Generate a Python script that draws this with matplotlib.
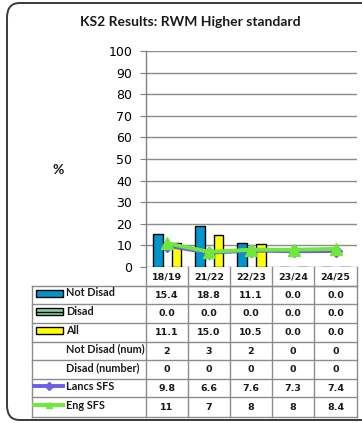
import matplotlib
matplotlib.use("Agg")
import matplotlib.pyplot as plt
from matplotlib.patches import FancyBboxPatch, Rectangle
from matplotlib.lines import Line2D

categories = ["18/19", "21/22", "22/23", "23/24", "24/25"]
not_disad = [15.4, 18.8, 11.1, 0.0, 0.0]
disad = [0.0, 0.0, 0.0, 0.0, 0.0]
all_pupils = [11.1, 15.0, 10.5, 0.0, 0.0]
not_disad_num = [2, 3, 2, 0, 0]
disad_num = [0, 0, 0, 0, 0]
lancs_sfs = [9.8, 6.6, 7.6, 7.3, 7.4]
eng_sfs = [11, 7, 8, 8, 8.4]
y_ticks = list(range(0, 101, 10))
title = "KS2 Results: RWM Higher standard"

W, H = 362, 423
fig = plt.figure(figsize=(W / 100, H / 100), dpi=100)
fig.patch.set_facecolor("white")


def fx(x):
    return x / W


def fy(y):
    return 1 - y / H


# outer rounded frame
frame = FancyBboxPatch((fx(7), fy(420)), fx(400) - fx(7), fy(3) - fy(420),
                       boxstyle="round,pad=0,rounding_size=0.035",
                       transform=fig.transFigure, fill=False,
                       edgecolor="#3a3a3a", linewidth=1.4, zorder=0)
fig.patches.append(frame)

fig.text(fx(190), fy(22), title, ha="center", va="center",
         fontsize=10, fontweight="bold", family="Lato", color="#1a1a1a")

L, R, T, B = 146, 357, 51, 267
ax = fig.add_axes([fx(L), fy(B), fx(R) - fx(L), fy(T) - fy(B)])
ax.set_xlim(-0.5, len(categories) - 0.5)
ax.set_ylim(0, 100)
ax.set_yticks(y_ticks)
ax.set_yticklabels([str(v) for v in y_ticks], fontsize=9, family="DejaVu Sans")
ax.tick_params(axis="y", length=4, width=0.8, color="#808080", pad=6)
ax.set_xticks([])
for s in ["top", "right", "bottom"]:
    ax.spines[s].set_visible(False)
ax.spines["left"].set_color("#808080")
ax.spines["left"].set_linewidth(1.0)
for v in y_ticks[1:]:
    ax.axhline(v, color="#8c8c8c", linewidth=1.0, zorder=0)
ax.axhline(0, color="#8c8c8c", linewidth=1.0, zorder=0)

xs = list(range(len(categories)))
bw = 0.23
off = 0.22
ax.bar([x - off for x in xs], not_disad, width=bw, color="#0095cc",
       edgecolor="black", linewidth=1.0, zorder=2)
ax.bar(xs, disad, width=bw, color="#7fd1a8", edgecolor="black",
       linewidth=0.0, zorder=2)
ax.bar([x + off for x in xs], all_pupils, width=bw, color="#ffff00",
       edgecolor="black", linewidth=1.0, zorder=2)
ax.plot(xs, lancs_sfs, color="#6e5fe6", linewidth=2.8, marker="D",
        markersize=6, zorder=3)
ax.plot(xs, eng_sfs, color="#6fe83a", linewidth=2.8, marker="^",
        markersize=8, zorder=4)

fig.text(fx(58), fy(170), "%", ha="center", va="center", fontsize=10,
         fontweight="bold", family="Lato", color="#1a1a1a")

# data table
col_edges = [146, 188, 230, 272, 314, 357]
row_edges = [267, 286, 304, 323, 342, 360, 379, 397, 417]
tab_left = 32
gc = "#8c8c8c"


def hline(x0, x1, y):
    fig.add_artist(Line2D([fx(x0), fx(x1)], [fy(y), fy(y)],
                          transform=fig.transFigure, color=gc, linewidth=1.0))


def vline(x, y0, y1):
    fig.add_artist(Line2D([fx(x), fx(x)], [fy(y0), fy(y1)],
                          transform=fig.transFigure, color=gc, linewidth=1.0))


hline(col_edges[0], col_edges[-1], row_edges[1])
for y in row_edges[1:]:
    hline(tab_left, col_edges[-1], y)
for x in col_edges:
    vline(x, row_edges[0], row_edges[-1])
vline(tab_left, row_edges[1], row_edges[-1])

tfont = dict(fontsize=6.8, fontweight="bold", family="DejaVu Sans",
             color="#1a1a1a", ha="center", va="center")
for i, c in enumerate(categories):
    cx = (col_edges[i] + col_edges[i + 1]) / 2
    fig.text(fx(cx), fy((row_edges[0] + row_edges[1]) / 2 + 1), c, **tfont)

rows = [
    ("Not Disad", [f"{v:.1f}" for v in not_disad], "bar", "#0095cc"),
    ("Disad", [f"{v:.1f}" for v in disad], "hatch", "#7fd1a8"),
    ("All", [f"{v:.1f}" for v in all_pupils], "bar", "#ffff00"),
    ("Not Disad (num)", [str(v) for v in not_disad_num], None, None),
    ("Disad (number)", [str(v) for v in disad_num], None, None),
    ("Lancs SFS", [f"{v:g}" for v in lancs_sfs], "line", "#6e5fe6"),
    ("Eng SFS", [f"{v:g}" for v in eng_sfs], "line", "#6fe83a"),
]
lfont = dict(fontsize=7.8, fontweight="bold", family="Lato", color="#1a1a1a",
             ha="left", va="center")
for r, (label, vals, kind, col) in enumerate(rows):
    y0, y1 = row_edges[r + 1], row_edges[r + 2]
    cy = (y0 + y1) / 2
    fig.text(fx(66), fy(cy - 2), label, **lfont)
    for i, v in enumerate(vals):
        cx = (col_edges[i] + col_edges[i + 1]) / 2
        fig.text(fx(cx), fy(cy), v, **tfont)
    if kind in ("bar", "hatch"):
        rect = Rectangle((fx(36), fy(cy + 1.5)), fx(63) - fx(36),
                         fy(cy - 5.5) - fy(cy + 1.5),
                         transform=fig.transFigure, facecolor=col,
                         edgecolor="black", linewidth=1.0,
                         hatch="--" if kind == "hatch" else None)
        fig.add_artist(rect)
    elif kind == "line":
        mk = "D" if label.startswith("Lancs") else "^"
        fig.add_artist(Line2D([fx(34), fx(63)], [fy(cy - 2), fy(cy - 2)],
                              transform=fig.transFigure, color=col,
                              linewidth=2.8))
        fig.add_artist(Line2D([fx(48.5)], [fy(cy - 2)],
                              transform=fig.transFigure, color=col,
                              marker=mk, markersize=4, linestyle="none"))

fig.savefig("out.png", dpi=100, facecolor="white")
